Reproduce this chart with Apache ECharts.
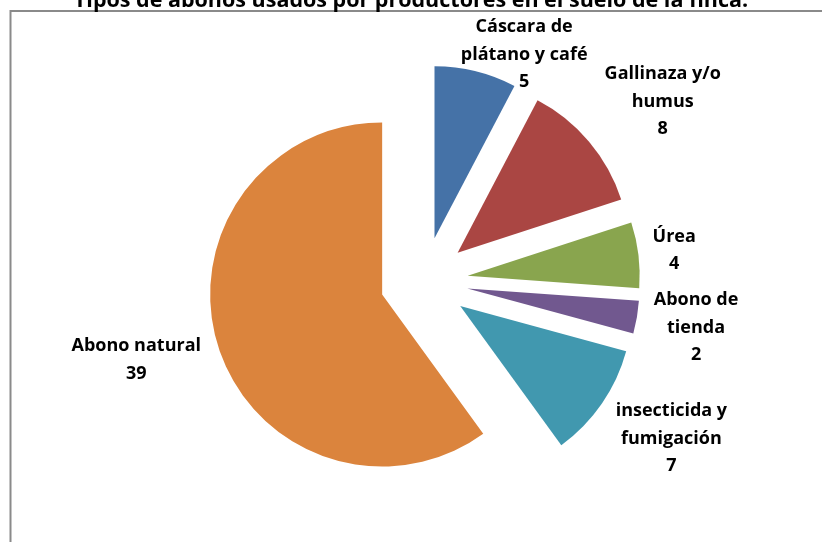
<!DOCTYPE html>
<html>
<head>
<meta charset="utf-8">
<script src="https://cdn.jsdelivr.net/npm/echarts@6/dist/echarts.min.js"></script>
<style>
  html, body { margin: 0; padding: 0; background: #fff; }
  #chart { width: 822px; height: 542px; }
</style>
</head>
<body>
<div id="chart"></div>
<script>
// ---- data ----
var categories = [
  'Cáscara de\nplátano y café',
  'Gallinaza y/o\nhumus',
  'Úrea',
  'Abono de\ntienda',
  'insecticida y\nfumigación',
  'Abono natural'
];
var values = [5, 8, 4, 2, 7, 39];
var colors = ['#4572A7', '#AA4643', '#89A54E', '#71588F', '#4198AF', '#DB843D'];
var titleText = 'Tipos de abonos usados por productores en el suelo de la finca.';

// ---- layout config (not data) ----
var center = [424, 281];
var radius = 172;
var explode = 44;
// label placement relative to each slice bisector: [radial distance, tangential shift]
var labelPlace = [[244, 43], [298, 17], [252, 0], [276, 0], [293, -11], [298, 14]];

var total = values.reduce(function (a, b) { return a + b; }, 0);
var midAngles = [];
(function () {
  var acc = 0;
  for (var i = 0; i < values.length; i++) {
    var a0 = acc / total * 2 * Math.PI;
    acc += values[i];
    var a1 = acc / total * 2 * Math.PI;
    midAngles.push((a0 + a1) / 2);
  }
})();

var chart = echarts.init(document.getElementById('chart'), null, { renderer: 'canvas' });
var font = '"Open Sans", "Noto Sans", sans-serif';

var pieData = categories.map(function (name, i) {
  return { name: name, value: values[i], selected: true, itemStyle: { color: colors[i] } };
});

chart.setOption({
  animation: false,
  title: {
    text: titleText,
    left: 'center',
    top: -15,
    textStyle: { fontFamily: font, fontWeight: 'bold', fontSize: 21.5, lineHeight: 22, color: '#000' }
  },
  graphic: [{
    type: 'rect',
    shape: { x: 10.5, y: 11, width: 900, height: 600 },
    style: { fill: 'none', stroke: '#8a8a8a', lineWidth: 2 },
    silent: true
  }],
  series: [{
    type: 'pie',
    center: center,
    radius: radius,
    startAngle: 90,
    clockwise: true,
    selectedMode: 'multiple',
    selectedOffset: explode,
    avoidLabelOverlap: false,
    emphasis: { disabled: true },
    itemStyle: { borderWidth: 0 },
    label: { show: false },
    labelLine: { show: false },
    data: pieData
  }, {
    // same data, invisible sectors: carries the value labels
    type: 'pie',
    center: center,
    radius: radius,
    startAngle: 90,
    clockwise: true,
    silent: true,
    avoidLabelOverlap: false,
    emphasis: { disabled: true },
    itemStyle: { color: 'rgba(0,0,0,0)', borderWidth: 0 },
    label: {
      show: true,
      position: 'outside',
      formatter: '{b}\n{c}',
      fontFamily: font,
      fontWeight: 'bold',
      fontSize: 18,
      lineHeight: 27.5,
      color: '#000'
    },
    labelLine: { show: false },
    labelLayout: function (p) {
      var i = p.dataIndex;
      var t = midAngles[i];
      var dx = Math.sin(t), dy = -Math.cos(t);
      var px = Math.cos(t), py = Math.sin(t);
      var r = labelPlace[i][0], s = labelPlace[i][1];
      return {
        x: center[0] + r * dx + s * px,
        y: center[1] + r * dy + s * py,
        align: 'center',
        verticalAlign: 'middle'
      };
    },
    data: categories.map(function (name, i) { return { name: name, value: values[i] }; })
  }]
});
</script>
</body>
</html>
